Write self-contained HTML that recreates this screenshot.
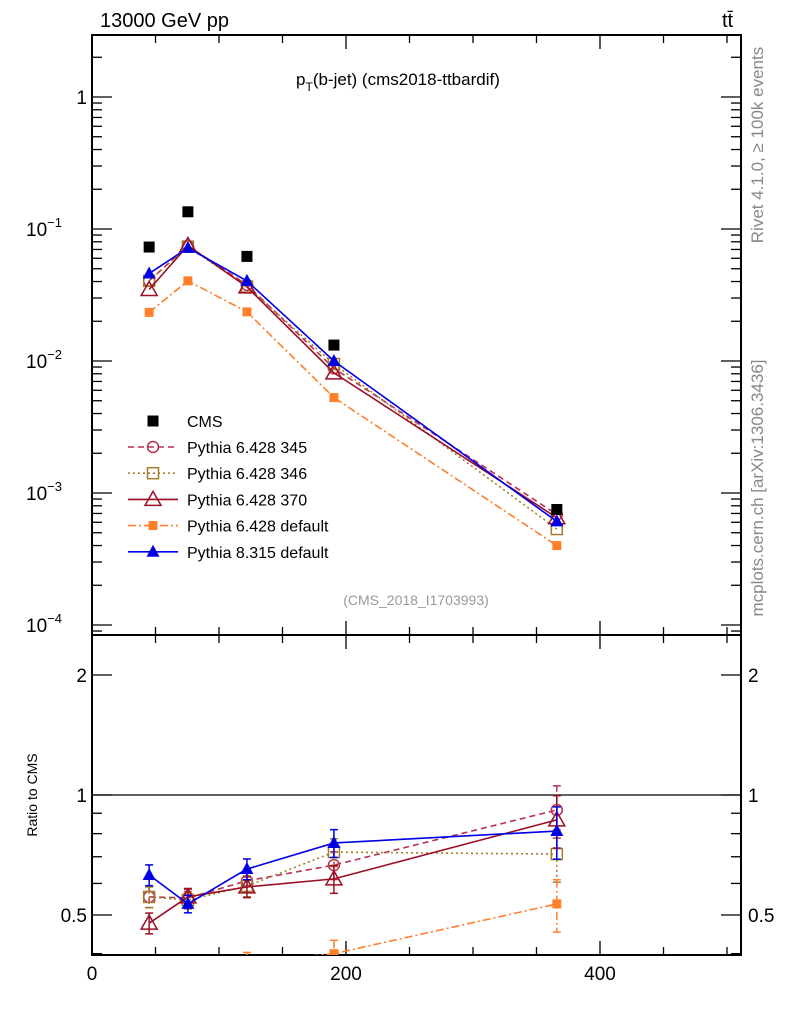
<!DOCTYPE html>
<html><head><meta charset="utf-8"><style>
body{margin:0;background:#fff}
svg{display:block;font-family:"Liberation Sans",sans-serif}
</style></head><body>
<svg id="c" width="786" height="1024" viewBox="0 0 786 1024" xmlns="http://www.w3.org/2000/svg">
<text x="100" y="27" font-size="20">13000 GeV pp</text>
<text x="722" y="27" font-size="20">tt̄</text>
<text x="296" y="85" font-size="17">p<tspan font-size="12" dy="6">T</tspan><tspan dy="-6">(b-jet) (cms2018-ttbardif)</tspan></text>
<text transform="translate(763,145) rotate(-90)" text-anchor="middle" font-size="17" fill="#888">Rivet 4.1.0, ≥ 100k events</text>
<text transform="translate(763,488) rotate(-90)" text-anchor="middle" font-size="17" fill="#888">mcplots.cern.ch [arXiv:1306.3436]</text>
<text x="416" y="605" text-anchor="middle" font-size="14" fill="#999">(CMS_2018_I1703993)</text>
<text transform="translate(37,795) rotate(-90)" text-anchor="middle" font-size="14">Ratio to CMS</text>
<g id="g"></g>
</svg>
<script>
const xs=[45,75.5,122,190.5,366];
const cms=[0.073,0.135,0.062,0.0132,0.00075];
const cmsErr=[0.03,0.03,0.03,0.04,0.05];
const r345=[0.555,0.552,0.609,0.667,0.917];
const r346=[0.555,0.545,0.591,0.719,0.711];
const r370=[0.477,0.555,0.588,0.616,0.866];
const rP6d=[0.32,0.30,0.38,0.40,0.533];
const rP8=[0.630,0.533,0.652,0.758,0.812];
const errRel=[0.06,0.05,0.06,0.08,0.15];
const xTicks=[0,200,400];
const yTicksMain=[1,0.1,0.01,0.001,0.0001];
const yTickLabels=["1","10","10","10","10"];
const yTickExp=["","−1","−2","−3","−4"];
const rTicks=[0.5,1,2];

const L=92,R=741,T=35,M=635,B=955;
const X=v=>L+v*1.27;
const Y=v=>97-132*Math.log10(v);
const YR=v=>795-120*Math.log2(v);
const NS="http://www.w3.org/2000/svg";
const g=document.getElementById('g');
function el(t,a,p){const e=document.createElementNS(NS,t);for(const k in a)e.setAttribute(k,a[k]);(p||g).appendChild(e);return e;}
function clipRect(id,y0,y1){const d=el('clipPath',{id:id});el('rect',{x:L,y:y0,width:R-L,height:y1-y0},d);}
clipRect('cm',T,M);clipRect('cr',M,B);

let f=el('rect',{x:L,y:T,width:R-L,height:M-T,fill:'none',stroke:'#000','stroke-width':2});

f=el('rect',{x:L,y:M,width:R-L,height:B-M,fill:'none',stroke:'#000','stroke-width':2});

for(let v=0;v<=500;v+=50){const major=v%200===0;const len=major?14:8;const x=X(v);
 for(const [y0,d] of [[T,1],[M,-1],[M,1],[B,-1]]) el('line',{x1:x,x2:x,y1:y0,y2:y0+d*len,stroke:'#000','stroke-width':1.3});}
xTicks.forEach(v=>{const t=el('text',{x:X(v),y:980,'text-anchor':'middle','font-size':19});t.textContent=v;
 });
for(let e=-5;e<=0;e++)for(let m=1;m<10;m++){const v=m*Math.pow(10,e);const y=Y(v);if(y<T||y>M)continue;const len=m===1?20:10;
 el('line',{x1:L,x2:L+len,y1:y,y2:y,stroke:'#000','stroke-width':1.3});el('line',{x1:R,x2:R-len,y1:y,y2:y,stroke:'#000','stroke-width':1.3});}
yTicksMain.forEach((v,i)=>{const t=el('text',{x:yTickExp[i]?62:87,y:Y(v)+7,'text-anchor':'end','font-size':19});t.textContent=yTickLabels[i];
 if(yTickExp[i]){el('tspan',{'font-size':13,dy:-9},t).textContent=yTickExp[i];}
 });
[0.4,0.5,0.6,0.7,0.8,0.9,1,2].forEach(v=>{const y=YR(v);const len=(v===1||v===2||v===0.5)?20:10;
 el('line',{x1:L,x2:L+len,y1:y,y2:y,stroke:'#000','stroke-width':1.3});el('line',{x1:R,x2:R-len,y1:y,y2:y,stroke:'#000','stroke-width':1.3});});
rTicks.forEach(v=>{for(const [x,a] of [[87,'end'],[748,'start']]){const t=el('text',{x:x,y:YR(v)+7,'text-anchor':a,'font-size':19});t.textContent=v;
 }});
el('line',{x1:L,x2:R,y1:YR(1),y2:YR(1),stroke:'#000','stroke-width':1.3});

function marker(p,type,x,y,c,s){
 if(type==='sq')el('rect',{x:x-s,y:y-s,width:2*s,height:2*s,fill:c},p);
 else if(type==='osq')el('rect',{x:x-5.5,y:y-5.5,width:11,height:11,fill:'none',stroke:c,'stroke-width':1.5},p);
 else if(type==='ci')el('circle',{cx:x,cy:y,r:5.5,fill:'none',stroke:c,'stroke-width':1.5},p);
 else if(type==='otri')el('polygon',{points:`${x},${y-8} ${x-8},${y+6} ${x+8},${y+6}`,fill:'none',stroke:c,'stroke-width':1.5},p);
 else if(type==='tri')el('polygon',{points:`${x},${y-7} ${x-6.5},${y+5} ${x+6.5},${y+5}`,fill:c},p);
}
const series=[
 {n:'pythia-6428-345',r:r345,c:'#b8314f',d:'6,4',m:'ci',lab:'Pythia 6.428 345'},
 {n:'pythia-6428-346',r:r346,c:'#a57c2c',d:'2,3',m:'osq',lab:'Pythia 6.428 346'},
 {n:'pythia-6428-370',r:r370,c:'#9b0f25',d:'',m:'otri',lab:'Pythia 6.428 370'},
 {n:'pythia-6428-default',r:rP6d,c:'#ff7f2a',d:'8,3,2,3',m:'sq',lab:'Pythia 6.428 default'},
 {n:'pythia-8315-default',r:rP8,c:'#0000e6',d:'',m:'tri',lab:'Pythia 8.315 default'}];
series.forEach(s=>{
 const gm=el('g',{'clip-path':'url(#cm)'});
 const gr=el('g',{'clip-path':'url(#cr)'});
 const vals=s.r.map((r,i)=>r*cms[i]);
 el('polyline',{points:xs.map((x,i)=>X(x)+','+Y(vals[i])).join(' '),fill:'none',stroke:s.c,'stroke-width':1.6,'stroke-dasharray':s.d},gm);
 el('polyline',{points:xs.map((x,i)=>X(x)+','+YR(s.r[i])).join(' '),fill:'none',stroke:s.c,'stroke-width':1.6,'stroke-dasharray':s.d},gr);
 xs.forEach((x,i)=>{
  const e=errRel[i];
  const y1=YR(s.r[i]*(1+e)),y2=YR(s.r[i]*(1-e));
  el('line',{x1:X(x),x2:X(x),y1:y1,y2:y2,stroke:s.c,'stroke-width':1.5,'stroke-dasharray':s.d},gr);
  el('line',{x1:X(x)-4,x2:X(x)+4,y1:y1,y2:y1,stroke:s.c,'stroke-width':1.5},gr);
  el('line',{x1:X(x)-4,x2:X(x)+4,y1:y2,y2:y2,stroke:s.c,'stroke-width':1.5},gr);
  marker(gm,s.m,X(x),Y(vals[i]),s.c,4.5);
  marker(gr,s.m,X(x),YR(s.r[i]),s.c,4.5);
 });
});
const gc=el('g',{});
xs.forEach((x,i)=>marker(gc,'sq',X(x),Y(cms[i]),'#000',5.5));
const lg=el('g',{});
marker(lg,'sq',153,421,'#000',5.5);
let t=el('text',{x:187,y:427,'font-size':16},lg);t.textContent='CMS';
series.forEach((s,i)=>{const y=447+i*26.2;
 const e=el('g',{},lg);
 el('line',{x1:128,x2:178,y1:y,y2:y,stroke:s.c,'stroke-width':1.6,'stroke-dasharray':s.d},e);
 marker(e,s.m,153,y,s.c,4.5);
 const tt=el('text',{x:187,y:y+6,'font-size':16},e);tt.textContent=s.lab;});
</script>
</body></html>
